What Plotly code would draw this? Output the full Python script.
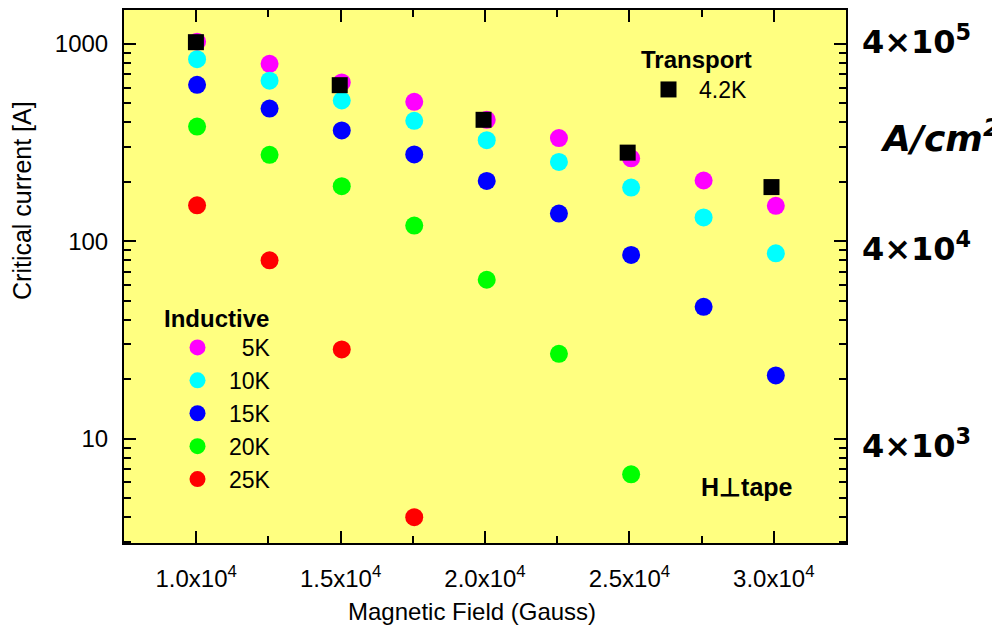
import plotly.graph_objects as go

# ---------------- data ----------------
field_inductive = [10030, 12540, 15040, 17550, 20060, 22560, 25060, 27570, 30070]
ic_5K = [1025, 792, 637, 508, 412, 333, 263, 203, 151]
ic_10K = [836, 650, 516, 407, 325, 252, 187, 132, 86.8]
ic_15K = [620, 470, 364, 275, 202, 138, 85.2, 46.5, 20.9]
ic_20K = [381, 274, 190, 120, 63.8, 26.9, 6.6]
ic_25K = [152, 80, 28.3, 4.0]

field_transport = [9990, 14970, 19950, 24940, 29920]
ic_transport_4K = [1019, 617, 412, 281, 188]

x_tickvals = [10000, 15000, 20000, 25000, 30000]
x_ticktext = ["1.0x10<sup>4</sup>", "1.5x10<sup>4</sup>", "2.0x10<sup>4</sup>",
              "2.5x10<sup>4</sup>", "3.0x10<sup>4</sup>"]
y_tickvals = [10, 100, 1000]
y_ticktext = ["10", "100", "1000"]
y_minor = [m * d for d in (1, 10, 100) for m in range(2, 10)]

x_title = "Magnetic Field (Gauss)"
y_title = "Critical current [A]"
jc_labels = ["4\u00d710<sup>5</sup>", "4\u00d710<sup>4</sup>", "4\u00d710<sup>3</sup>"]
jc_unit = "A/cm<sup>2</sup>"

inductive = [
    ("\u00a0\u00a05K", ic_5K, "#FF00FF"),
    ("10K", ic_10K, "#00FFFF"),
    ("15K", ic_15K, "#0000FF"),
    ("20K", ic_20K, "#00FF00"),
    ("25K", ic_25K, "#FF0000"),
]

# ---------------- layout helpers (pixel -> paper) ----------------
# target plot area in the screenshot; the page body adds an 8px offset
L, R, T, B = 124, 846, 10, 543
W, H = 1000, 634
OFF = 8
def px(x):
    return (x - L) / (R - L)
def py(y):
    return (B - y) / (B - T)

FONT = "Liberation Sans, Arial, sans-serif"
BIG = "DejaVu Sans, sans-serif"

fig = go.Figure()

for name, vals, col in inductive:
    fig.add_trace(go.Scatter(
        x=field_inductive[:len(vals)], y=vals, mode="markers", name=name,
        marker=dict(symbol="circle", size=18, color=col, line=dict(width=0)),
        legend="legend", legendgroup=name,
    ))

fig.add_trace(go.Scatter(
    x=field_transport, y=ic_transport_4K, mode="markers", name="4.2K",
    marker=dict(symbol="square", size=16, color="black", line=dict(width=0)),
    legend="legend2",
))

axis_common = dict(
    showline=True, linecolor="black", linewidth=2, mirror="ticks",
    ticks="inside", tickcolor="black", tickwidth=2, ticklen=12,
    showgrid=False, zeroline=False, automargin=False,
    tickfont=dict(family=FONT, size=24, color="black"),
)

fig.update_xaxes(
    range=[7500, 32500], tickmode="array", tickvals=x_tickvals, ticktext=x_ticktext,
    ticklabelstandoff=13,
    minor=dict(dtick=2500, tick0=0, ticks="inside", ticklen=7, tickwidth=2,
               tickcolor="black", showgrid=False),
    **axis_common,
)
fig.update_yaxes(
    type="log", range=[0.4714, 3.1711], tickmode="array",
    tickvals=y_tickvals, ticktext=y_ticktext, ticklabelstandoff=9,
    minor=dict(tickmode="array", tickvals=y_minor, ticks="inside", ticklen=7,
               tickwidth=2, tickcolor="black", showgrid=False),
    **axis_common,
)

annotations = [
    dict(text=x_title, x=px(472), y=py(612), xanchor="center", yanchor="middle",
         font=dict(family=FONT, size=24, color="black")),
    dict(text=y_title, x=px(22), y=py(200), xanchor="center", yanchor="middle",
         textangle=-90, font=dict(family=FONT, size=25, color="black")),
    dict(text="<b>Inductive</b>", x=px(162), y=py(318), xanchor="left", yanchor="middle",
         font=dict(family=FONT, size=24, color="black")),
    dict(text="<b>Transport</b>", x=px(639), y=py(59), xanchor="left", yanchor="middle",
         font=dict(family=FONT, size=24, color="black")),
    dict(text="<b>H\u22a5tape</b>", x=px(699), y=py(487), xanchor="left", yanchor="middle",
         font=dict(family=FONT, size=25, color="black")),
]
for lab, ypix in zip(jc_labels, [40, 247, 444]):
    annotations.append(dict(text="<b>" + lab + "</b>", x=px(860), y=py(ypix),
                            xanchor="left", yanchor="middle",
                            font=dict(family=BIG, size=32, color="black")))
annotations.append(dict(text="<b><i>" + jc_unit + "</i></b>", x=px(878), y=py(136),
                        xanchor="left", yanchor="middle",
                        font=dict(family=BIG, size=36, color="black")))
for a in annotations:
    a.update(xref="paper", yref="paper", showarrow=False)

fig.update_layout(
    width=W, height=H,
    margin=dict(l=L - OFF, r=W - R + OFF, t=T - OFF, b=H - B + OFF),
    paper_bgcolor="white", plot_bgcolor="#FFFF80",
    font=dict(family=FONT, size=23, color="black"),
    showlegend=True,
    legend=dict(x=px(166), y=py(326), xanchor="left", yanchor="top",
                bgcolor="rgba(0,0,0,0)", font=dict(family=FONT, size=23, color="black"),
                itemwidth=53, tracegroupgap=0, traceorder="normal"),
    legend2=dict(x=px(638), y=py(68), xanchor="left", yanchor="top",
                 bgcolor="rgba(0,0,0,0)", font=dict(family=FONT, size=23, color="black"),
                 itemwidth=51),
    annotations=annotations,
)

fig.write_html("out.html")
